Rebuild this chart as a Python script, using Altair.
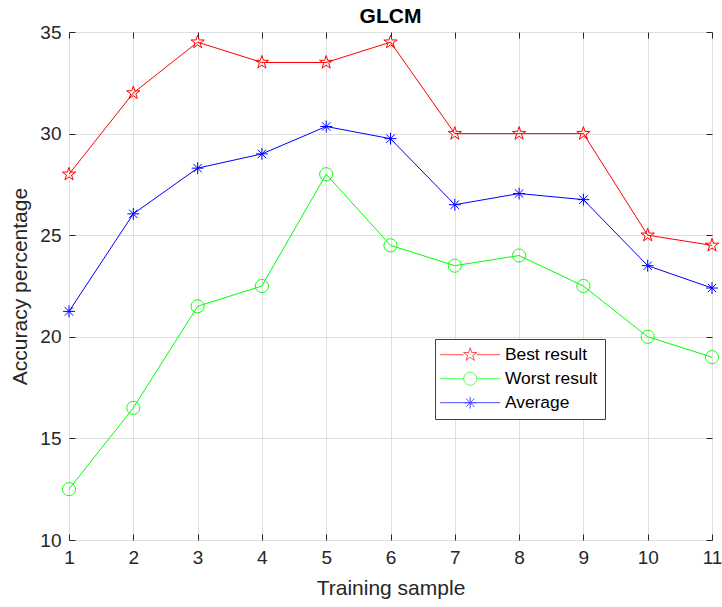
import altair as alt
import pandas as pd

samples = [1, 2, 3, 4, 5, 6, 7, 8, 9, 10, 11]
best = [28, 32, 34.5, 33.5, 33.5, 34.5, 30, 30, 30, 25, 24.5]
worst = [12.5, 16.5, 21.5, 22.5, 28, 24.5, 23.5, 24, 22.5, 20, 19]
average = [21.25, 26.05, 28.3, 29.0, 30.35, 29.75, 26.5, 27.05, 26.75, 23.5, 22.4]
series_names = ["Best result", "Worst result", "Average"]
series_colors = ["#FF0000", "#00FF00", "#0000FF"]

rows = []
for name, vals in zip(series_names, [best, worst, average]):
    for s, v in zip(samples, vals):
        rows.append({"sample": s, "acc": v, "series": name})
df = pd.DataFrame(rows)

STAR = "M0,-1L0.225,-0.309L0.951,-0.309L0.363,0.118L0.588,0.809L0,0.382L-0.588,0.809L-0.363,0.118L-0.951,-0.309L-0.225,-0.309Z"
CIRC = "M0.93,0A0.93,0.93,0,1,1,-0.93,0A0.93,0.93,0,1,1,0.93,0Z"
AST = "M0,-0.85V0.85M-0.85,0H0.85M-0.6,-0.6L0.6,0.6M-0.6,0.6L0.6,-0.6"
marker_paths = [STAR, CIRC, AST]
legend_paths = [
    "M-4.3,0H-0.95M0.95,0H4.3" + STAR,
    "M-4.3,0H-0.93M0.93,0H4.3" + CIRC,
    "M-4.3,0H4.3" + AST,
]

FONT = "Liberation Sans"
AXC = "#262626"
GRID = "#dfdfdf"

xs = alt.Scale(domain=[1, 11], nice=False, zero=False)
ys = alt.Scale(domain=[10, 35], nice=False, zero=False)
cs = alt.Scale(domain=series_names, range=series_colors)

x_bottom = alt.Axis(
    title="Training sample", values=samples, format="d", grid=True, gridColor=GRID,
    domain=False, offset=-6, tickSize=6, tickColor=AXC, labelPadding=8, labelFlush=False,
    labelFontSize=19, labelColor=AXC, labelFont=FONT, titleFont=FONT,
    titleFontSize=21, titleFontWeight="normal", titleColor=AXC, titlePadding=10,
)
y_left = alt.Axis(
    title="Accuracy percentage", values=[10, 15, 20, 25, 30, 35], grid=True, gridColor=GRID,
    domain=False, offset=-6, tickSize=6, tickColor=AXC, labelPadding=8, labelFlush=False,
    labelFontSize=19, labelColor=AXC, labelFont=FONT, titleFont=FONT,
    titleFontSize=21, titleFontWeight="normal", titleColor=AXC, titlePadding=9,
)
x_top = alt.Axis(orient="top", values=samples, labels=False, title=None, grid=False,
                 domain=False, offset=-6, tickSize=6, tickColor=AXC)
y_right = alt.Axis(orient="right", values=[10, 15, 20, 25, 30, 35], labels=False, title=None,
                   grid=False, domain=False, offset=-6, tickSize=6, tickColor=AXC)

lines = alt.Chart(df).mark_line(strokeWidth=1, clip=False).encode(
    x=alt.X("sample:Q", scale=xs, axis=x_bottom),
    y=alt.Y("acc:Q", scale=ys, axis=y_left),
    color=alt.Color("series:N", scale=cs, legend=None),
    detail="series:N",
)

points = alt.Chart(df).mark_point(filled=False, strokeWidth=1, size=196, opacity=1, clip=False).encode(
    x=alt.X("sample:Q", scale=xs, axis=x_top),
    y=alt.Y("acc:Q", scale=ys, axis=y_right),
    color=alt.Color("series:N", scale=cs, legend=None),
    shape=alt.Shape("series:N", scale=alt.Scale(domain=series_names, range=marker_paths), legend=None),
)

leg = alt.Legend(
    title=None, orient="none", legendX=366, legendY=307, padding=7,
    strokeColor="#404040", fillColor="white", symbolSize=196, symbolStrokeWidth=1,
    symbolOffset=19.5, labelOffset=26, labelFont=FONT, labelFontSize=17.4, labelColor="#000000",
    rowPadding=5, symbolType="circle",
)
legend_layer = alt.Chart(df).transform_filter("datum.sample > 100").mark_point(
    filled=False, strokeWidth=1, size=196
).encode(
    x=alt.X("sample:Q", scale=xs, axis=None),
    y=alt.Y("acc:Q", scale=ys, axis=None),
    color=alt.Color("series:N", scale=alt.Scale(domain=series_names, range=series_colors), legend=leg),
    shape=alt.Shape("series:N", scale=alt.Scale(domain=series_names, range=legend_paths), legend=leg),
)

chart = alt.layer(lines, points, legend_layer).resolve_scale(
    color="independent", shape="independent"
).resolve_axis(x="independent", y="independent").properties(
    width=643, height=508,
    title=alt.TitleParams("GLCM", fontSize=21, font=FONT, fontWeight="bold", color="#000000",
                          offset=-4, anchor="middle"),
    autosize=alt.AutoSizeParams(type="none"),
    padding={"left": 69, "top": 32, "right": 10, "bottom": 67},
).configure_view(stroke=AXC, strokeWidth=1).configure(background="white")

chart.save("out.html", embed_options={"renderer": "svg", "actions": False})
